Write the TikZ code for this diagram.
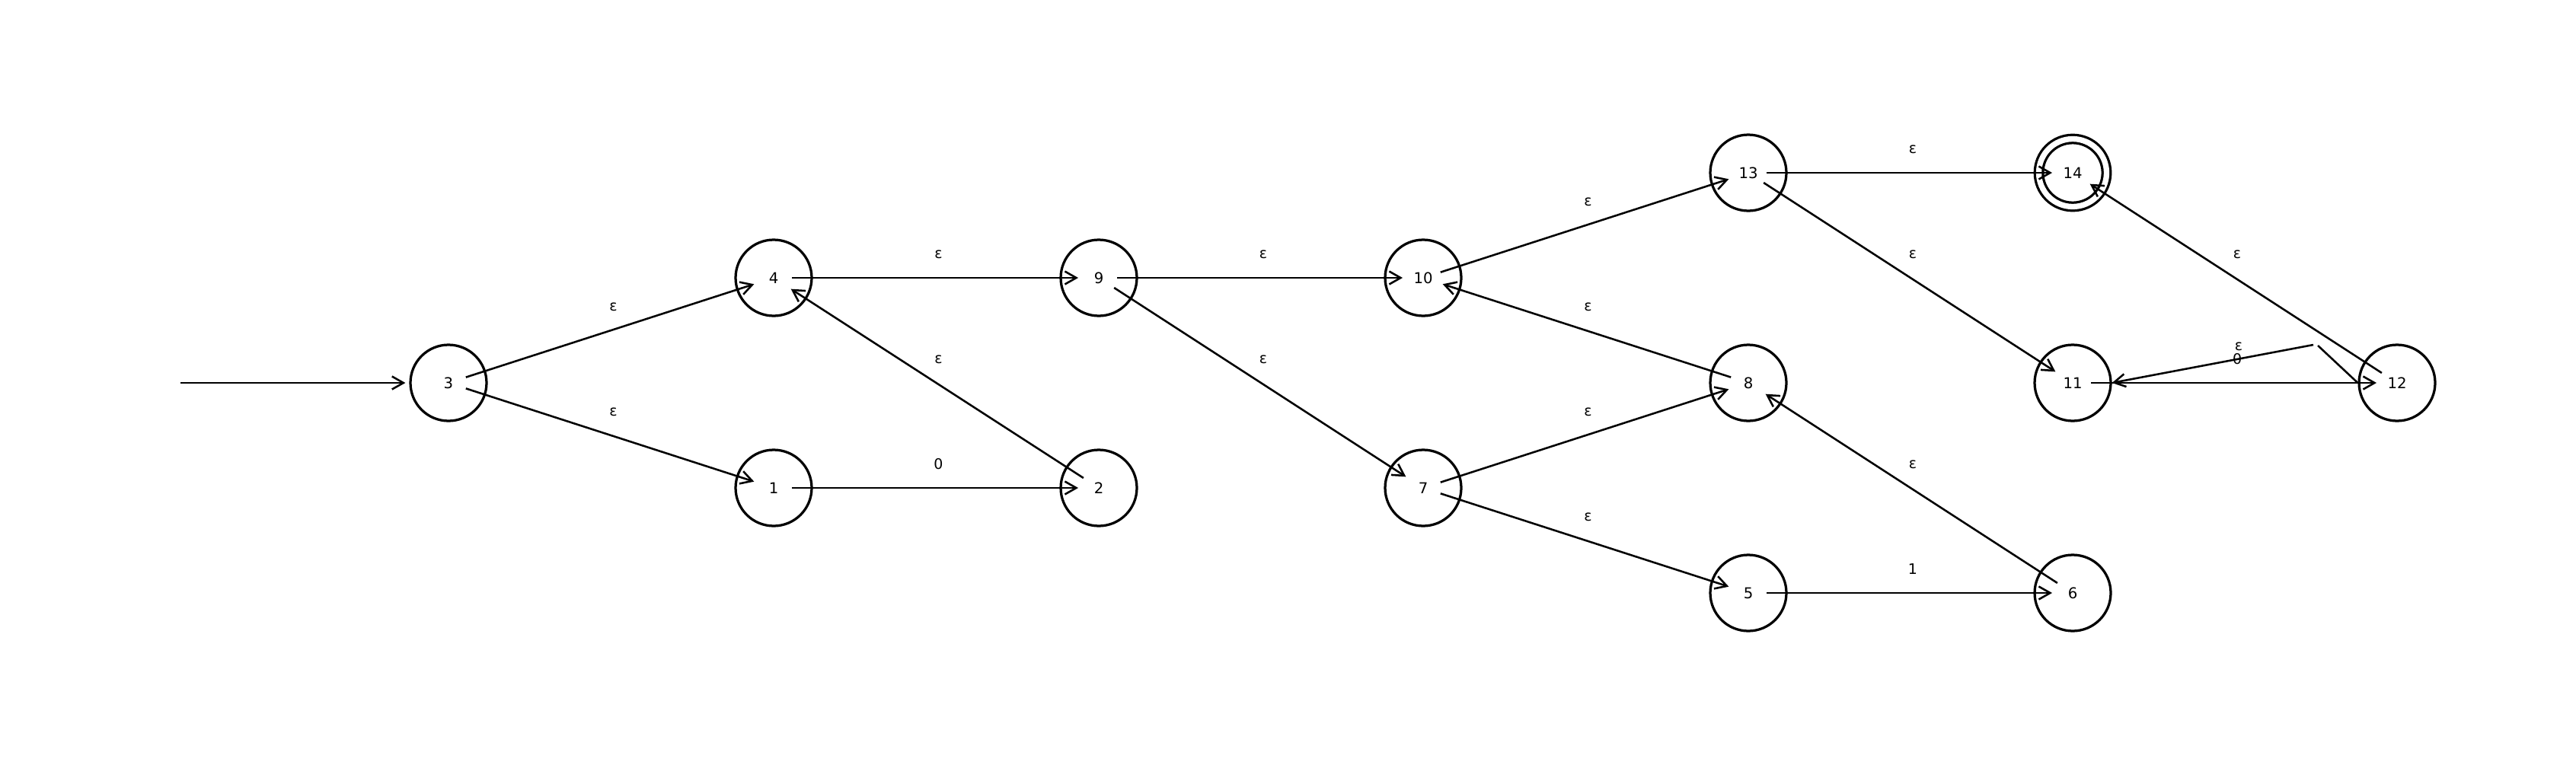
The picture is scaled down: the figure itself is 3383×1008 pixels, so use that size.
\documentclass[tikz,border=0pt]{standalone}
\usepackage{fontspec}
\setmainfont{DejaVu Sans}
\usetikzlibrary{arrows.meta}
\begin{document}
\begin{tikzpicture}[x=0.02cm,y=-0.02cm,
  state/.style={circle,draw,line width=1.85pt,minimum size=2cm,inner sep=0pt,font=\fontsize{11.2}{13}\selectfont},
  accept/.style={state,double,double distance=0.146cm,minimum size=1.78cm},
  tipstyle/.style={-{Straight Barb[length=0.3cm,width=0.34cm]}},
  edge/.style={line width=1.45pt,tipstyle,shorten <=0.48cm,shorten >=0.54cm},
  plainedge/.style={line width=1.45pt},
  lbl/.style={font=\fontsize{10.8}{12}\selectfont,xshift=0.06cm,yshift=0.62cm,inner sep=0pt}
]
\useasboundingbox (0,0) rectangle (3383,1008);
% nodes
\node[state] (3) at (589,503) {3};
\node[state] (4) at (1016,365) {4};
\node[state] (1) at (1016,641) {1};
\node[state] (9) at (1443,365) {9};
\node[state] (2) at (1443,641) {2};
\node[state] (10) at (1869,365) {10};
\node[state] (7) at (1869,641) {7};
\node[state] (13) at (2296,227) {13};
\node[state] (8) at (2296,503) {8};
\node[state] (5) at (2296,779) {5};
\node[accept] (14) at (2722,227) {14};
\node[state] (11) at (2722,503) {11};
\node[state] (6) at (2722,779) {6};
\node[state] (12) at (3148,503) {12};
% start arrow
\coordinate (s) at (237,503);
\draw[plainedge,tipstyle,shorten >=0.1cm] (s) -- (3);
% edges
\draw[edge] (3.center) -- (4.center) node[lbl,midway] {ε};
\draw[edge] (3.center) -- (1.center) node[lbl,midway] {ε};
\draw[edge] (4.center) -- (9.center) node[lbl,midway] {ε};
\draw[edge] (1.center) -- (2.center) node[lbl,midway] {0};
\draw[edge] (2.center) -- (4.center) node[lbl,midway] {ε};
\draw[edge] (9.center) -- (10.center) node[lbl,midway] {ε};
\draw[edge] (9.center) -- (7.center) node[lbl,midway] {ε};
\draw[edge] (10.center) -- (13.center) node[lbl,midway] {ε};
\draw[edge] (8.center) -- (10.center) node[lbl,midway] {ε};
\draw[edge] (7.center) -- (8.center) node[lbl,midway] {ε};
\draw[edge] (7.center) -- (5.center) node[lbl,midway] {ε};
\draw[edge] (13.center) -- (14.center) node[lbl,midway] {ε};
\draw[edge] (13.center) -- (11.center) node[lbl,midway] {ε};
\draw[edge] (5.center) -- (6.center) node[lbl,midway] {1};
\draw[edge] (6.center) -- (8.center) node[lbl,midway] {ε};
\draw[edge] (12.center) -- (14.center) node[lbl,midway] {ε};
\draw[edge] (11.center) -- (12.center) node[lbl,midway] {0};
% broken edge 12 -> 11
\coordinate (k1) at (3044,454);
\coordinate (k2) at (3038,453);
\draw[plainedge] (k1) -- (12.west);
\draw[plainedge,tipstyle] (k2) -- (11.east);
\node[font=\fontsize{10.8}{12}\selectfont,inner sep=0pt] (l1211) at (2940,455) {ε};
\end{tikzpicture}
\end{document}
